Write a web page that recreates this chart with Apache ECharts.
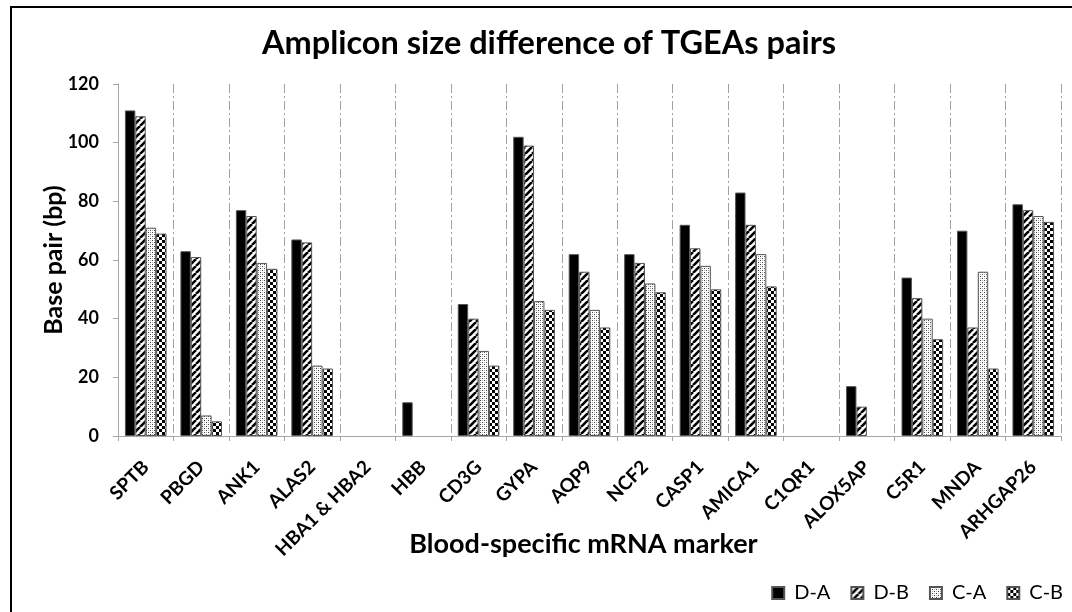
<!DOCTYPE html>
<html>
<head>
<meta charset="utf-8">
<script src="https://cdn.jsdelivr.net/npm/echarts@6/dist/echarts.min.js"></script>
<style>
  html, body { margin: 0; padding: 0; background: #fff; }
  #chart { width: 1072px; height: 612px; }
</style>
</head>
<body>
<div id="chart"></div>
<script>
// Blood-specific mRNA markers and amplicon size differences (bp) for each TGEA pair
// (null = no amplicon difference reported for that pair)
const markers = ['SPTB', 'PBGD', 'ANK1', 'ALAS2', 'HBA1 & HBA2', 'HBB', 'CD3G', 'GYPA', 'AQP9',
  'NCF2', 'CASP1', 'AMICA1', 'C1QR1', 'ALOX5AP', 'C5R1', 'MNDA', 'ARHGAP26'];
const seriesNames = ['D-A', 'D-B', 'C-A', 'C-B'];
const dA = [111, 63, 77, 67, null, 11.5, 45, 102, 62, 62, 72, 83, null, 17, 54, 70, 79];
const dB = [109, 61, 75, 66, null, null, 40, 99, 56, 59, 64, 72, null, 10, 47, 37, 77];
const cA = [71, 7, 59, 24, null, null, 29, 46, 43, 52, 58, 62, null, null, 40, 56, 75];
const cB = [69, 5, 57, 23, null, null, 24, 43, 37, 49, 50, 51, null, null, 33, 23, 73];
const yTicks = { min: 0, max: 120, interval: 20 };

const FONT = 'Lato, "Open Sans", sans-serif';

// small tiles used as repeating fills for the bars
function tile(w, h, draw) {
  const c = document.createElement('canvas');
  c.width = w; c.height = h;
  const ctx = c.getContext('2d');
  ctx.fillStyle = '#fff';
  ctx.fillRect(0, 0, w, h);
  draw(ctx);
  return c;
}
const stripes = tile(7, 7, ctx => {
  ctx.strokeStyle = '#000';
  ctx.lineWidth = 2.6;
  for (const k of [-7, 0, 7]) {
    ctx.beginPath();
    ctx.moveTo(k, 7);
    ctx.lineTo(k + 7, 0);
    ctx.stroke();
  }
});
const dots = tile(4, 4, ctx => {
  ctx.fillStyle = '#444';
  ctx.fillRect(0, 0, 1, 1);
  ctx.fillRect(2, 2, 1, 1);
  ctx.fillStyle = '#b4b4b4';
  ctx.fillRect(2, 0, 1, 1);
  ctx.fillRect(0, 2, 1, 1);
});
const checks = tile(6, 6, ctx => {
  ctx.fillStyle = '#000';
  ctx.fillRect(0, 0, 3, 3);
  ctx.fillRect(3, 3, 3, 3);
});

const fills = [
  '#000',
  { image: stripes, repeat: 'repeat' },
  { image: dots, repeat: 'repeat' },
  { image: checks, repeat: 'repeat' }
];
const values = [dA, dB, cA, cB];

const chart = echarts.init(document.getElementById('chart'), null, { renderer: 'canvas' });
chart.setOption({
  backgroundColor: '#fff',
  animation: false,
  title: {
    text: 'Amplicon size difference of TGEAs pairs',
    left: 544, top: 22, textAlign: 'center',
    textStyle: { fontFamily: FONT, fontWeight: 'bold', fontSize: 32.5, color: '#000' }
  },
  graphic: [{
    type: 'rect', silent: true, z: 100,
    shape: { x: 11, y: 7, width: 1100, height: 700 },
    style: { fill: 'none', stroke: '#000', lineWidth: 2 }
  }],
  legend: {
    data: seriesNames,
    right: 4, top: 578,
    icon: 'rect', itemWidth: 12, itemHeight: 12, itemGap: 20,
    textStyle: { fontFamily: FONT, fontSize: 20, color: '#000', padding: [0, 0, 0, 5] }
  },
  grid: { left: 118, right: 11, top: 84, bottom: 176 },
  xAxis: {
    type: 'category',
    data: markers,
    name: 'Blood-specific mRNA marker',
    nameLocation: 'middle', nameGap: 95,
    nameMoveOverlap: false,
    nameTextStyle: { fontFamily: FONT, fontWeight: 'bold', fontSize: 27, color: '#000', padding: [0, 12, 0, 0] },
    axisLine: { lineStyle: { color: '#a6a6a6', width: 1 } },
    axisTick: { show: true, length: 5, interval: 0, lineStyle: { color: '#a6a6a6' } },
    axisLabel: {
      interval: 0, rotate: 45, margin: 28,
      fontFamily: FONT, fontWeight: 'bold', fontSize: 19, color: '#000'
    },
    splitLine: {
      show: true, interval: 0,
      lineStyle: { color: '#a0a0a0', width: 1, type: [9, 3, 2, 3] }
    }
  },
  yAxis: {
    type: 'value',
    min: yTicks.min, max: yTicks.max, interval: yTicks.interval,
    name: 'Base pair (bp)',
    nameLocation: 'middle', nameGap: 52,
    nameMoveOverlap: false,
    nameTextStyle: { fontFamily: FONT, fontWeight: 'bold', fontSize: 25, color: '#000' },
    axisLine: { show: true, lineStyle: { color: '#a6a6a6', width: 1 } },
    axisTick: { show: true, length: 5, lineStyle: { color: '#a6a6a6' } },
    axisLabel: { margin: 19, fontFamily: FONT, fontWeight: 'bold', fontSize: 18, color: '#000' },
    splitLine: { show: false }
  },
  series: seriesNames.map((name, i) => ({
    name,
    type: 'bar',
    data: values[i],
    barGap: '0%',
    barCategoryGap: '25%',
    itemStyle: { color: fills[i], borderColor: '#555', borderWidth: 1 }
  }))
});
</script>
</body>
</html>
